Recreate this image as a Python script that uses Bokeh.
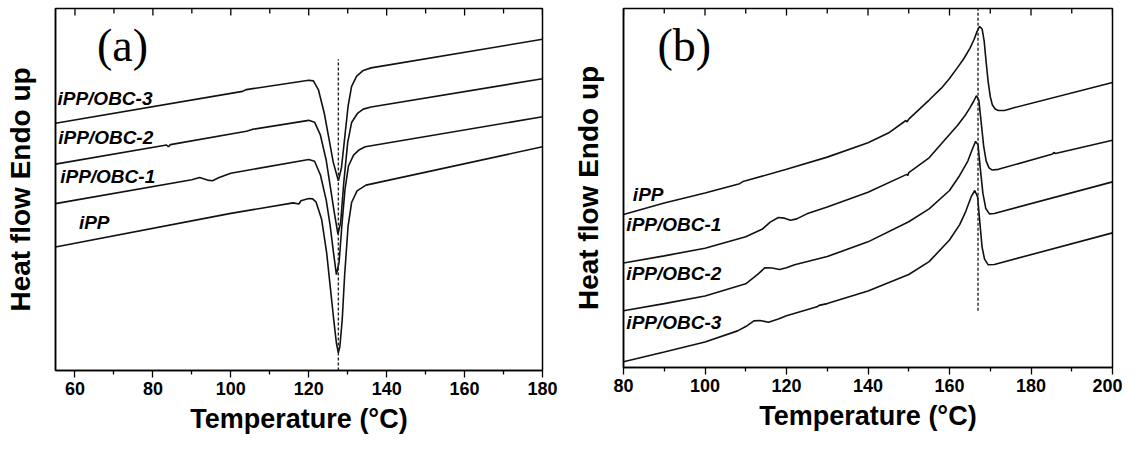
from bokeh.plotting import figure
from bokeh.models import Range1d, SingleIntervalTicker, FixedTicker, Label
from bokeh.layouts import row
from bokeh.embed import file_html
from bokeh.resources import INLINE

# ---------------- Panel (a): cooling (crystallization) ----------------
a_ipp_T = [55, 100, 116, 117.5, 118, 120, 121, 121.9, 123.3, 124.6, 125.5, 126.5, 127.1, 127.6,
           128.0, 128.6, 129.2, 130.1, 131.0, 132.4, 134.7, 180]
a_ipp_y = [34.1, 43.4, 46.3, 46.0, 46.9, 47.5, 47.4, 46.5, 41.8, 32.5, 23.3, 13.2, 7.6, 4.9,
           6.7, 14.1, 26.1, 39.9, 46.4, 49.6, 51.2, 61.8]

a_obc1_T = [55, 90, 92, 94, 95.3, 97, 100, 120, 121.5, 123, 124.5, 125.5, 126.3, 127.1,
            127.8, 128.5, 129.3, 130.2, 131.5, 133, 134.5, 180]
a_obc1_y = [46.1, 52.7, 53.3, 52.6, 52.4, 53.3, 54.5, 58.3, 57.8, 54.0, 47.0, 40.0, 33.0, 26.5,
            30.0, 40.0, 50.0, 56.5, 59.5, 61.0, 61.8, 70.1]

a_obc2_T = [55, 83.5, 84, 84.5, 104, 105.5, 120, 121.5, 123, 124.5, 125.5, 126.5, 127.5,
            128.2, 129, 130, 131, 132.5, 134, 136, 180]
a_obc2_y = [57.0, 62.3, 61.8, 62.4, 66.1, 66.6, 69.1, 68.6, 65.0, 58.0, 51.0, 44.0, 37.6,
            41.0, 52.0, 63.0, 68.5, 71.0, 72.2, 72.8, 80.6]

a_obc3_T = [55, 103, 104, 120, 121.2, 122.5, 124, 125.2, 126.3, 127.6, 128.4, 129.2, 130.1,
            131, 132.3, 134, 136, 180]
a_obc3_y = [68.3, 77.1, 77.6, 80.2, 80.0, 77.5, 71.0, 64.0, 57.5, 52.4, 56.0, 64.0, 73.0,
            78.5, 81.3, 82.9, 83.6, 91.5]

a_peak_T = 127.6
a_peak_span = [0, 86]

# ---------------- Panel (b): heating (melting) ----------------
b_ipp_T = [80, 90, 100, 108.5, 109.5, 110, 120, 130, 140, 145, 149.3, 149.6, 150, 155, 158, 160,
           162, 163.5, 165, 166, 166.8, 167.4, 168, 168.5, 169, 169.5, 170, 170.5, 171.2, 172,
           173.5, 175, 176, 200]
b_ipp_y = [42.6, 45.8, 48.6, 51.2, 51.9, 52.0, 55.2, 58.6, 62.6, 65.3, 68.8, 68.4, 69.2, 74.5, 77.8, 80.5,
           83.6, 86.0, 88.9, 91.3, 93.7, 95.0, 94.3, 91.0, 85.0, 79.5, 75.5, 73.2, 72.0, 71.6,
           71.6, 72.1, 72.4, 79.4]

b_obc1_T = [80, 90, 100, 110, 114, 116, 118, 119.5, 121, 122.5, 125, 130, 140, 149.5, 149.8, 150,
            155, 160, 162, 164, 165, 166, 166.6, 167.2, 167.8, 168.4, 169, 169.7, 170.5, 172,
            185.3, 185.6, 186, 200]
b_obc1_y = [29.1, 31.1, 33.2, 36.4, 38.5, 40.5, 41.8, 41.6, 41.0, 41.4, 42.8, 44.7, 48.8, 53.8, 53.5, 54.3,
            58.4, 64.9, 67.5, 70.5, 72.3, 74.3, 75.7, 74.5, 68.0, 61.5, 57.5, 55.6, 55.0, 55.2,
            59.5, 59.9, 59.6, 63.3]

b_obc2_T = [80, 90, 100, 110, 113, 114.7, 116.5, 118.3, 120, 122, 130, 140, 150, 155, 160,
            162.5, 164.5, 165.5, 166.4, 167, 167.6, 168.2, 168.9, 169.8, 171, 200]
b_obc2_y = [15.8, 17.8, 19.9, 23.3, 26.0, 27.8, 27.7, 27.3, 27.8, 28.6, 30.9, 35.0, 40.6, 44.2, 49.3,
            53.5, 57.5, 60.5, 63.0, 62.0, 55.0, 48.5, 44.3, 42.8, 42.9, 51.7]

b_obc3_T = [80, 90, 100, 108, 110, 112, 113.5, 115.6, 118, 120, 127.5, 128, 130, 140, 150, 155,
            160, 162.5, 164, 165.3, 166.2, 166.9, 167.4, 168, 168.6, 169.5, 171, 200]
b_obc3_y = [1.6, 4.3, 7.1, 10.2, 11.4, 13.0, 13.1, 12.6, 13.5, 14.4, 16.9, 17.3, 17.8, 21.3, 25.9, 29.5,
            35.5, 39.8, 43.5, 47.5, 49.3, 47.5, 41.0, 33.5, 30.2, 28.6, 28.7, 37.5]

b_peak_T = 167.0
b_peak_span = [15.8, 100]

# tick values (major every 20, minor every 10)
a_major_ticks = [60, 80, 100, 120, 140, 160, 180]
a_minor_ticks = [70, 90, 110, 130, 150, 170]
b_major_ticks = [80, 100, 120, 140, 160, 180, 200]
b_minor_ticks = [90, 110, 130, 150, 170, 190]

x_label = "Temperature (°C)"
y_label = "Heat flow Endo up"

LINE_W = 1.6
FONT = "Liberation Sans"


def make_panel(xr, series, peak_T, peak_span, panel_tag, tag_pos, labels,
               majors, minors, width, height, left, right, top, frame_h):
    p = figure(width=width, height=height, x_range=Range1d(*xr), y_range=Range1d(0, 100),
               output_backend="svg", toolbar_location=None,
               min_border_left=left, min_border_right=right, min_border_top=top,
               min_border_bottom=0)
    p.xgrid.visible = False
    p.ygrid.visible = False
    p.background_fill_color = "white"
    p.border_fill_color = "white"
    p.outline_line_color = "black"
    p.outline_line_width = 1.5
    p.outline_line_alpha = 1.0

    xa = p.below[0]
    xa.ticker = FixedTicker(ticks=majors, minor_ticks=minors)
    xa.axis_label = x_label
    xa.axis_label_text_font = FONT
    xa.axis_label_text_font_style = "bold"
    xa.axis_label_text_font_size = "27px"
    xa.axis_label_text_color = "black"
    xa.axis_label_standoff = 6
    xa.major_label_text_font = FONT
    xa.major_label_text_font_style = "bold"
    xa.major_label_text_font_size = "18px"
    xa.major_label_text_color = "black"
    xa.major_label_standoff = 4
    xa.major_tick_in = 0
    xa.major_tick_out = 7
    xa.minor_tick_in = 0
    xa.minor_tick_out = 4
    xa.axis_line_width = 1.5
    xa.major_tick_line_width = 1.3
    xa.minor_tick_line_width = 1.3

    ya = p.left[0]
    ya.ticker = FixedTicker(ticks=[])
    ya.axis_label = y_label
    ya.axis_label_text_font = FONT
    ya.axis_label_text_font_style = "bold"
    ya.axis_label_text_font_size = "28px"
    ya.axis_label_text_color = "black"
    ya.axis_label_standoff = 20
    ya.major_label_standoff = 0
    ya.major_tick_in = 0
    ya.major_tick_out = 0
    ya.minor_tick_in = 0
    ya.minor_tick_out = 0
    ya.axis_line_width = 1.5

    # inward ticks on the top edge of the frame
    maj_len = 7.0 / frame_h * 100.0
    min_len = 5.0 / frame_h * 100.0
    p.segment(x0=majors, y0=[100] * len(majors), x1=majors, y1=[100 - maj_len] * len(majors),
              line_color="black", line_width=1.3)
    p.segment(x0=minors, y0=[100] * len(minors), x1=minors, y1=[100 - min_len] * len(minors),
              line_color="black", line_width=1.3)

    for T, y in series:
        p.line(T, y, line_color="#111111", line_width=LINE_W)

    p.line([peak_T, peak_T], peak_span, line_color="#222222", line_width=1.4, line_dash="3 2")

    p.add_layout(Label(x=tag_pos[0], y=tag_pos[1], text=panel_tag, text_font="Liberation Serif",
                       text_font_size="46px", text_align="center", text_baseline="middle",
                       text_color="black"))
    for txt, lx, ly in labels:
        p.add_layout(Label(x=lx, y=ly, text=txt, text_font=FONT, text_font_style="bold italic",
                           text_font_size="19px", text_align="left", text_baseline="middle",
                           text_color="black"))
    return p


pa = make_panel((55, 180),
                [(a_ipp_T, a_ipp_y), (a_obc1_T, a_obc1_y), (a_obc2_T, a_obc2_y), (a_obc3_T, a_obc3_y)],
                a_peak_T, a_peak_span, "(a)", (72.2, 89.7),
                [("iPP/OBC-3", 55.5, 75.1), ("iPP/OBC-2", 55.7, 64.5),
                 ("iPP/OBC-1", 56.2, 53.7), ("iPP", 61.0, 41.0)],
                a_major_ticks, a_minor_ticks,
                width=561, height=436, left=55, right=19, top=8, frame_h=361)

pb = make_panel((80, 200),
                [(b_ipp_T, b_ipp_y), (b_obc1_T, b_obc1_y), (b_obc2_T, b_obc2_y), (b_obc3_T, b_obc3_y)],
                b_peak_T, b_peak_span, "(b)", (94.9, 89.6),
                [("iPP", 82.3, 48.3), ("iPP/OBC-1", 80.7, 39.8),
                 ("iPP/OBC-2", 80.7, 26.3), ("iPP/OBC-3", 80.7, 12.6)],
                b_major_ticks, b_minor_ticks,
                width=561, height=433, left=62, right=10, top=4, frame_h=362)

layout = row(pa, pb)
open("out.html", "w").write(file_html(layout, INLINE))
